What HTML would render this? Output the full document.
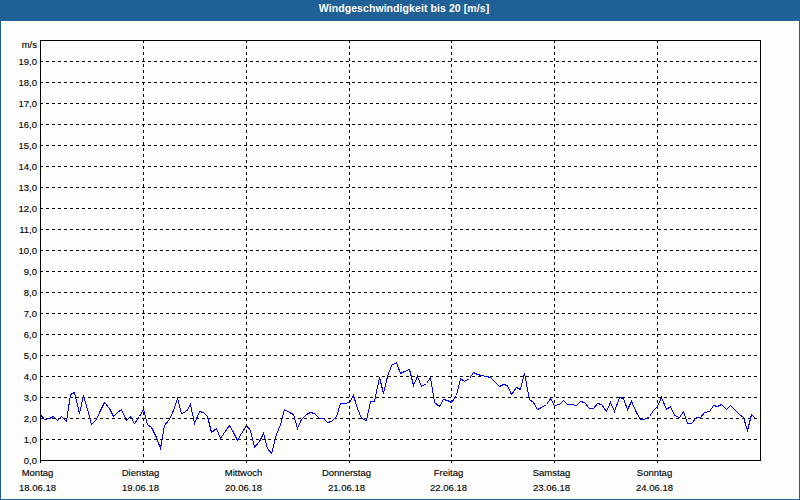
<!DOCTYPE html>
<html><head><meta charset="utf-8"><style>
html,body{margin:0;padding:0;}
body{width:800px;height:500px;position:relative;overflow:hidden;background:#fcfdfc;font-family:"Liberation Sans", sans-serif;}
#hdr{position:absolute;left:0;top:0;width:800px;height:21px;background:#1f6096;}
#title{position:absolute;left:4px;top:1px;width:800px;text-align:center;color:#fff;font-weight:bold;font-size:10.5px;line-height:14px;letter-spacing:0.08px;white-space:nowrap;}
.bl{position:absolute;background:#1f6096;}
svg{position:absolute;left:0;top:0;}
.d{stroke:#000;stroke-width:1;stroke-dasharray:3 3;}
.yl{position:absolute;left:0;width:37px;text-align:right;font-size:9.5px;line-height:12px;color:#000;-webkit-text-stroke:0.12px #000;letter-spacing:0px;white-space:nowrap;}
.xl{position:absolute;width:100px;text-align:center;font-size:9.5px;line-height:12px;color:#000;-webkit-text-stroke:0.12px #000;letter-spacing:0px;white-space:nowrap;}
</style></head><body>
<div id="hdr"><div id="title">Windgeschwindigkeit bis 20 [m/s]</div></div>
<div class="bl" style="left:0;top:0;width:1px;height:500px"></div>
<div class="bl" style="left:799px;top:0;width:1px;height:500px"></div>
<div class="bl" style="left:0;top:499px;width:800px;height:1px"></div>
<svg width="800" height="500" shape-rendering="crispEdges">
<line x1="40" y1="61.5" x2="760" y2="61.5" class="d"/><line x1="40" y1="82.5" x2="760" y2="82.5" class="d"/><line x1="40" y1="103.5" x2="760" y2="103.5" class="d"/><line x1="40" y1="124.5" x2="760" y2="124.5" class="d"/><line x1="40" y1="145.5" x2="760" y2="145.5" class="d"/><line x1="40" y1="166.5" x2="760" y2="166.5" class="d"/><line x1="40" y1="187.5" x2="760" y2="187.5" class="d"/><line x1="40" y1="208.5" x2="760" y2="208.5" class="d"/><line x1="40" y1="229.5" x2="760" y2="229.5" class="d"/><line x1="40" y1="250.5" x2="760" y2="250.5" class="d"/><line x1="40" y1="271.5" x2="760" y2="271.5" class="d"/><line x1="40" y1="292.5" x2="760" y2="292.5" class="d"/><line x1="40" y1="313.5" x2="760" y2="313.5" class="d"/><line x1="40" y1="334.5" x2="760" y2="334.5" class="d"/><line x1="40" y1="355.5" x2="760" y2="355.5" class="d"/><line x1="40" y1="376.5" x2="760" y2="376.5" class="d"/><line x1="40" y1="397.5" x2="760" y2="397.5" class="d"/><line x1="40" y1="418.5" x2="760" y2="418.5" class="d"/><line x1="40" y1="439.5" x2="760" y2="439.5" class="d"/><line x1="143.5" y1="40" x2="143.5" y2="466" class="d"/><line x1="246.5" y1="40" x2="246.5" y2="466" class="d"/><line x1="349.5" y1="40" x2="349.5" y2="466" class="d"/><line x1="451.5" y1="40" x2="451.5" y2="466" class="d"/><line x1="554.5" y1="40" x2="554.5" y2="466" class="d"/><line x1="657.5" y1="40" x2="657.5" y2="466" class="d"/><line x1="40.5" y1="460" x2="40.5" y2="466" class="d"/>
<rect x="40.5" y="40.5" width="720" height="420" fill="none" stroke="#000" stroke-width="1"/>
<polyline points="40.5,414.5 44.5,419.5 49.5,418.5 53.5,416.5 57.5,420.5 61.5,416.5 66.5,421.5 70.5,394.5 74.5,392.5 79.5,413.5 83.5,395.5 87.5,409.5 91.5,424.5 96.5,419.5 100.5,410.5 104.5,402.5 109.5,408.5 113.5,416.5 117.5,412.5 121.5,409.5 126.5,420.5 130.5,416.5 134.5,423.5 139.5,416.5 143.5,409.5 147.5,424.5 151.5,427.5 156.5,437.5 160.5,448.5 164.5,425.5 169.5,419.5 173.5,410.5 177.5,398.5 181.5,413.5 186.5,411.5 190.5,404.5 194.5,423.5 199.5,411.5 203.5,412.5 207.5,416.5 211.5,432.5 216.5,428.5 220.5,438.5 224.5,432.5 229.5,425.5 233.5,432.5 237.5,440.5 241.5,433.5 246.5,425.5 250.5,430.5 254.5,447.5 259.5,441.5 263.5,433.5 267.5,448.5 271.5,453.5 276.5,434.5 280.5,424.5 284.5,409.5 289.5,412.5 293.5,414.5 297.5,428.5 301.5,419.5 306.5,414.5 310.5,412.5 314.5,413.5 319.5,418.5 323.5,418.5 327.5,422.5 331.5,421.5 336.5,416.5 340.5,403.5 344.5,403.5 349.5,402.5 353.5,395.5 357.5,408.5 361.5,418.5 366.5,420.5 370.5,401.5 374.5,401.5 379.5,377.5 383.5,393.5 387.5,376.5 391.5,365.5 396.5,362.5 400.5,373.5 404.5,371.5 409.5,369.5 413.5,385.5 417.5,376.5 421.5,386.5 426.5,383.5 430.5,377.5 434.5,402.5 439.5,406.5 443.5,399.5 447.5,400.5 451.5,402.5 456.5,395.5 460.5,378.5 464.5,381.5 469.5,378.5 473.5,372.5 477.5,374.5 481.5,375.5 486.5,376.5 490.5,377.5 494.5,381.5 499.5,386.5 503.5,384.5 507.5,385.5 511.5,394.5 516.5,387.5 520.5,389.5 524.5,373.5 529.5,399.5 533.5,402.5 537.5,409.5 541.5,407.5 546.5,404.5 550.5,398.5 554.5,405.5 559.5,404.5 563.5,400.5 567.5,404.5 571.5,404.5 576.5,405.5 580.5,401.5 584.5,402.5 589.5,408.5 593.5,408.5 597.5,403.5 601.5,404.5 606.5,411.5 610.5,402.5 614.5,411.5 619.5,397.5 623.5,398.5 627.5,409.5 631.5,401.5 636.5,412.5 640.5,419.5 644.5,419.5 649.5,416.5 653.5,410.5 657.5,406.5 661.5,397.5 666.5,409.5 670.5,406.5 674.5,415.5 679.5,417.5 683.5,411.5 687.5,423.5 691.5,423.5 696.5,417.5 700.5,417.5 704.5,412.5 709.5,411.5 713.5,405.5 717.5,406.5 721.5,404.5 726.5,409.5 730.5,405.5 734.5,409.5 739.5,414.5 743.5,417.5 747.5,430.5 751.5,414.5 756.5,419.5" fill="none" stroke="#0000ff" stroke-width="1"/>
</svg>
<div class="yl" style="top:39px">m/s</div>
<div class="yl" style="top:454.5px">0,0</div><div class="yl" style="top:433.5px">1,0</div><div class="yl" style="top:412.5px">2,0</div><div class="yl" style="top:391.5px">3,0</div><div class="yl" style="top:370.5px">4,0</div><div class="yl" style="top:349.5px">5,0</div><div class="yl" style="top:328.5px">6,0</div><div class="yl" style="top:307.5px">7,0</div><div class="yl" style="top:286.5px">8,0</div><div class="yl" style="top:265.5px">9,0</div><div class="yl" style="top:244.5px">10,0</div><div class="yl" style="top:223.5px">11,0</div><div class="yl" style="top:202.5px">12,0</div><div class="yl" style="top:181.5px">13,0</div><div class="yl" style="top:160.5px">14,0</div><div class="yl" style="top:139.5px">15,0</div><div class="yl" style="top:118.5px">16,0</div><div class="yl" style="top:97.5px">17,0</div><div class="yl" style="top:76.5px">18,0</div><div class="yl" style="top:55.5px">19,0</div>
<div class="xl" style="left:-12.5px;top:467px">Montag</div><div class="xl" style="left:-12.5px;top:482px">18.06.18</div><div class="xl" style="left:90.5px;top:467px">Dienstag</div><div class="xl" style="left:90.5px;top:482px">19.06.18</div><div class="xl" style="left:193.5px;top:467px">Mittwoch</div><div class="xl" style="left:193.5px;top:482px">20.06.18</div><div class="xl" style="left:296.5px;top:467px">Donnerstag</div><div class="xl" style="left:296.5px;top:482px">21.06.18</div><div class="xl" style="left:398.5px;top:467px">Freitag</div><div class="xl" style="left:398.5px;top:482px">22.06.18</div><div class="xl" style="left:501.5px;top:467px">Samstag</div><div class="xl" style="left:501.5px;top:482px">23.06.18</div><div class="xl" style="left:604.5px;top:467px">Sonntag</div><div class="xl" style="left:604.5px;top:482px">24.06.18</div>
</body></html>
